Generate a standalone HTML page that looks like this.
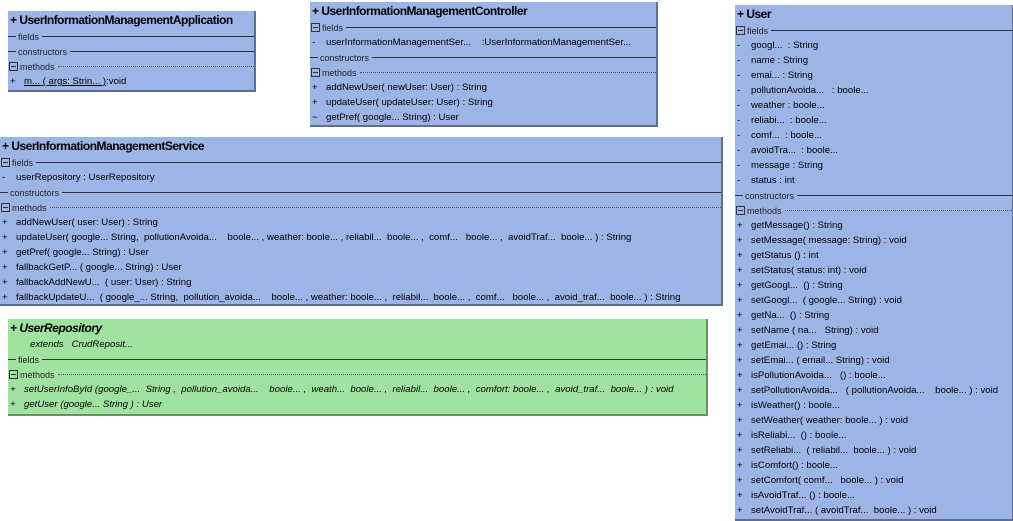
<!DOCTYPE html>
<html><head><meta charset="utf-8"><style>
body{margin:0;width:1013px;height:520px;background:#fff;position:relative;overflow:hidden;font-family:"Liberation Sans",sans-serif;}
.box{position:absolute;background:#9db4e6;border-right:2px solid #5f6f91;border-bottom:2px solid #5f6f91;box-sizing:border-box;color:#000;overflow:hidden}
.g{background:#a0e3a0;border-color:#6a8f6a;}
.t{height:18px;line-height:18px;font-size:12px;font-weight:bold;padding-left:2px;white-space:nowrap;letter-spacing:-0.5px}
.r{height:15px;line-height:15px;font-size:9.6px;white-space:nowrap;position:relative;padding-left:16px;}
.r b{position:absolute;left:2px;font-weight:normal}
.s{height:15px;display:flex;align-items:center;font-size:9px;color:#222;white-space:nowrap}
.s i{display:inline-block;width:7px;height:7px;border:1px solid #333;margin:0 2px 0 1px;position:relative;font-style:normal}
.s i:after{content:"";position:absolute;left:1px;right:1px;top:3px;height:1px;background:#333}
.s u{display:inline-block;width:8px;height:1px;background:#333;margin-right:2px}
.s span{flex:1;height:0;border-top:1px solid #333;margin-left:3px}
.s span.d{border-top:1px dotted #555}
.it .r{font-style:italic}
</style></head><body>

<div class="box" style="left:8px;top:11px;width:248px;height:81px">
<div class="t">+ UserInformationManagementApplication</div>
<div class="s"><u></u>fields<span></span></div>
<div class="s"><u></u>constructors<span></span></div>
<div class="s"><i></i>methods<span class="d"></span></div>
<div class="r"><b>+</b><span style="text-decoration:underline">m... ( args: Strin... )</span>:void</div>
</div>

<div class="box" style="left:310px;top:2px;width:348px;height:125px">
<div class="t">+ UserInformationManagementController</div>
<div class="s"><i></i>fields<span></span></div>
<div class="r"><b>-</b>userInformationManagementSer...&nbsp;&nbsp;&nbsp;&nbsp;:UserInformationManagementSer...</div>
<div class="s"><u></u>constructors<span></span></div>
<div class="s"><i></i>methods<span class="d"></span></div>
<div class="r"><b>+</b>addNewUser( newUser: User) : String</div>
<div class="r"><b>+</b>updateUser( updateUser: User) : String</div>
<div class="r"><b>~</b>getPref( google... String) : User</div>
</div>

<div class="box" style="left:0px;top:137px;width:723px;height:169px">
<div class="t">+ UserInformationManagementService</div>
<div class="s"><i></i>fields<span></span></div>
<div class="r"><b>-</b>userRepository : UserRepository</div>
<div class="s"><u></u>constructors<span></span></div>
<div class="s"><i></i>methods<span class="d"></span></div>
<div class="r"><b>+</b>addNewUser( user: User) : String</div>
<div class="r"><b>+</b>updateUser( google... String,&nbsp; pollutionAvoida...&nbsp;&nbsp;&nbsp; boole... , weather: boole... , reliabil...&nbsp; boole... ,&nbsp; comf...&nbsp;&nbsp; boole... ,&nbsp; avoidTraf...&nbsp; boole... ) : String</div>
<div class="r"><b>+</b>getPref( google... String) : User</div>
<div class="r"><b>+</b>fallbackGetP... ( google... String) : User</div>
<div class="r"><b>+</b>fallbackAddNewU...&nbsp; ( user: User) : String</div>
<div class="r"><b>+</b>fallbackUpdateU...&nbsp; ( google_... String,&nbsp; pollution_avoida...&nbsp;&nbsp;&nbsp; boole... , weather: boole... ,&nbsp; reliabil...&nbsp; boole... ,&nbsp; comf...&nbsp;&nbsp; boole... ,&nbsp; avoid_traf...&nbsp; boole... ) : String</div>
</div>

<div class="box g it" style="left:8px;top:319px;width:700px;height:97px">
<div class="t" style="font-style:italic">+ UserRepository</div>
<div class="r" style="padding-left:22px">extends&nbsp;&nbsp; CrudReposit...</div>
<div class="s"><u></u>fields<span></span></div>
<div class="s"><i></i>methods<span class="d"></span></div>
<div class="r"><b>+</b>setUserInfoById (google_... &nbsp;String ,&nbsp; pollution_avoida...&nbsp;&nbsp;&nbsp; boole... ,&nbsp; weath...&nbsp; boole... ,&nbsp; reliabil...&nbsp; boole... ,&nbsp; comfort: boole... ,&nbsp; avoid_traf...&nbsp; boole... ) : void</div>
<div class="r"><b>+</b>getUser (google... String ) : User</div>
</div>

<div class="box" style="left:735px;top:5px;width:279px;height:516px">
<div class="t">+ User</div>
<div class="s"><i></i>fields<span></span></div>
<div class="r"><b>-</b>googl...&nbsp; : String</div>
<div class="r"><b>-</b>name : String</div>
<div class="r"><b>-</b>emai... : String</div>
<div class="r"><b>-</b>pollutionAvoida...&nbsp;&nbsp; : boole...</div>
<div class="r"><b>-</b>weather : boole...</div>
<div class="r"><b>-</b>reliabi...&nbsp; : boole...</div>
<div class="r"><b>-</b>comf...&nbsp; : boole...</div>
<div class="r"><b>-</b>avoidTra...&nbsp; : boole...</div>
<div class="r"><b>-</b>message : String</div>
<div class="r"><b>-</b>status : int</div>
<div class="s"><u></u>constructors<span></span></div>
<div class="s"><i></i>methods<span class="d"></span></div>
<div class="r"><b>+</b>getMessage() : String</div>
<div class="r"><b>+</b>setMessage( message: String) : void</div>
<div class="r"><b>+</b>getStatus () : int</div>
<div class="r"><b>+</b>setStatus( status: int) : void</div>
<div class="r"><b>+</b>getGoogl...&nbsp; () : String</div>
<div class="r"><b>+</b>setGoogl...&nbsp; ( google... String) : void</div>
<div class="r"><b>+</b>getNa...&nbsp; () : String</div>
<div class="r"><b>+</b>setName ( na...&nbsp;&nbsp; String) : void</div>
<div class="r"><b>+</b>getEmai... () : String</div>
<div class="r"><b>+</b>setEmai... ( email... String) : void</div>
<div class="r"><b>+</b>isPollutionAvoida...&nbsp;&nbsp; () : boole...</div>
<div class="r"><b>+</b>setPollutionAvoida...&nbsp;&nbsp; ( pollutionAvoida...&nbsp;&nbsp;&nbsp; boole... ) : void</div>
<div class="r"><b>+</b>isWeather() : boole...</div>
<div class="r"><b>+</b>setWeather( weather: boole... ) : void</div>
<div class="r"><b>+</b>isReliabi...&nbsp; () : boole...</div>
<div class="r"><b>+</b>setReliabi...&nbsp; ( reliabil...&nbsp; boole... ) : void</div>
<div class="r"><b>+</b>isComfort() : boole...</div>
<div class="r"><b>+</b>setComfort( comf...&nbsp;&nbsp; boole... ) : void</div>
<div class="r"><b>+</b>isAvoidTraf... () : boole...</div>
<div class="r"><b>+</b>setAvoidTraf... ( avoidTraf...&nbsp; boole... ) : void</div>
</div>

</body></html>
